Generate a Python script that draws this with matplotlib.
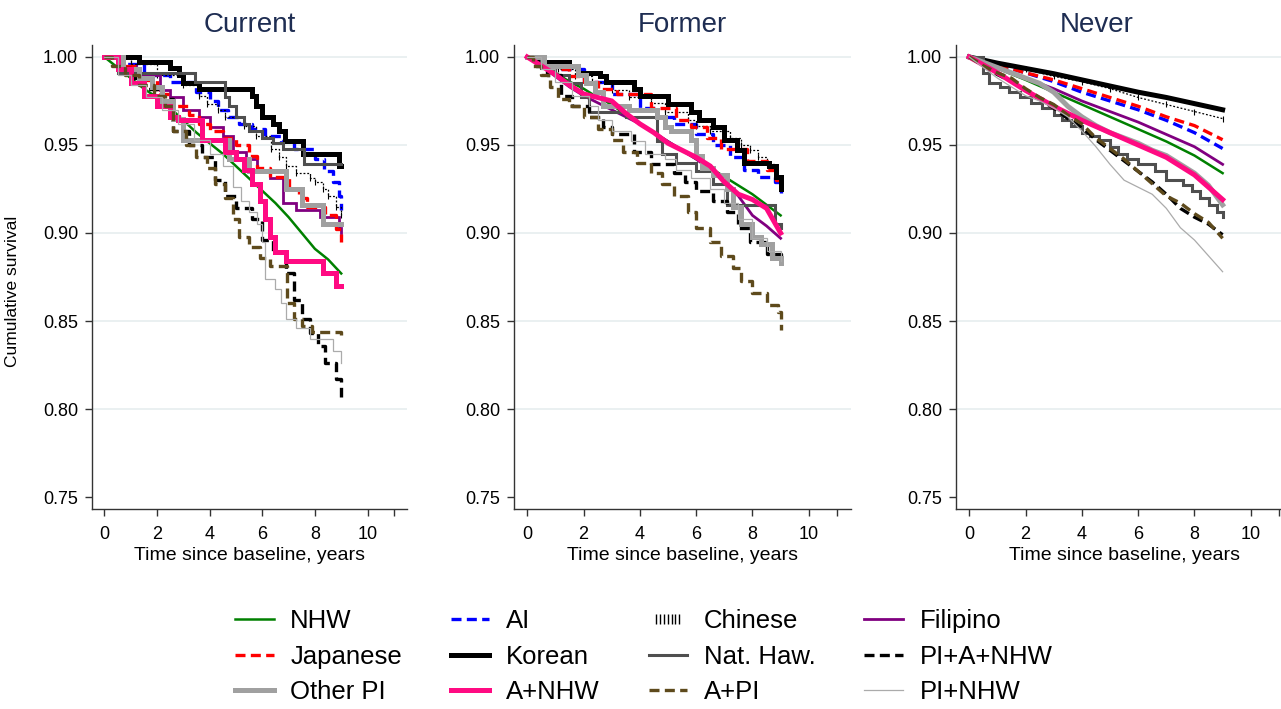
import numpy as np
import matplotlib
matplotlib.use('Agg')
import matplotlib.pyplot as plt
from matplotlib.lines import Line2D
from matplotlib.legend_handler import HandlerLine2D

plt.rcParams['font.family'] = ['Liberation Sans', 'DejaVu Sans']

W, H = 1281, 709

panel_titles = ['Current', 'Former', 'Never']
groups = ['NHW', 'AI', 'Chinese', 'Filipino', 'Japanese', 'Korean',
          'Nat. Haw.', 'PI+A+NHW', 'Other PI', 'A+NHW', 'A+PI', 'PI+NHW']
xticks = [0, 2, 4, 6, 8, 10, 11]
xticklabels = ['0', '2', '4', '6', '8', '10', '']
yticks = [0.75, 0.80, 0.85, 0.90, 0.95, 1.00]

# ---------------- Current
cur_nhw_t = [0, 0.5, 1, 1.5, 2, 2.5, 3, 3.5, 4, 4.5, 5, 5.5, 6, 6.5, 7, 7.5, 8, 8.5, 9]
cur_nhw_s = [1.0, 0.994, 0.988, 0.982, 0.977, 0.971, 0.964, 0.957, 0.951, 0.945, 0.938, 0.931, 0.924, 0.917, 0.909, 0.900, 0.891, 0.885, 0.877]
cur_ai_t = [0, 0.7, 1.5, 2.5, 3.5, 4.0, 4.3, 4.7, 5.1, 5.6, 6.1, 6.7, 7.2, 8.0, 8.35, 8.7, 8.9, 9.0]
cur_ai_s = [1.0, 0.996, 0.99, 0.986, 0.98, 0.975, 0.97, 0.966, 0.962, 0.959, 0.955, 0.952, 0.948, 0.942, 0.935, 0.929, 0.921, 0.913]
cur_chi_t = [0, 1.0, 2.0, 3.0, 3.6, 3.9, 4.3, 4.6, 5.3, 5.75, 6.35, 6.65, 6.9, 7.3, 7.8, 8.0, 8.3, 8.5, 8.8, 9.0]
cur_chi_s = [1.0, 0.996, 0.99, 0.984, 0.978, 0.973, 0.970, 0.966, 0.961, 0.955, 0.948, 0.943, 0.938, 0.934, 0.931, 0.929, 0.925, 0.921, 0.915, 0.910]
cur_fil_t = [0, 0.6, 1.2, 2.1, 2.5, 3.0, 3.6, 4.0, 4.5, 4.9, 5.4, 5.8, 6.3, 6.8, 7.3, 8.2, 8.9, 9.0]
cur_fil_s = [1.0, 0.995, 0.99, 0.981, 0.977, 0.970, 0.966, 0.960, 0.955, 0.946, 0.942, 0.935, 0.931, 0.917, 0.913, 0.909, 0.903, 0.900]
cur_jap_t = [0, 0.5, 1.3, 2.0, 2.5, 3.2, 3.6, 4.0, 4.5, 5.0, 5.5, 5.8, 6.3, 7.0, 7.4, 7.7, 8.4, 8.8, 9.0]
cur_jap_s = [1.0, 0.995, 0.987, 0.979, 0.972, 0.967, 0.962, 0.958, 0.954, 0.950, 0.944, 0.937, 0.932, 0.925, 0.920, 0.915, 0.910, 0.902, 0.895]
cur_kor_t = [0, 1.3, 2.5, 2.85, 2.97, 3.6, 5.6, 5.75, 6.0, 6.4, 6.65, 6.85, 7.55, 8.9, 9.0]
cur_kor_s = [1.0, 0.997, 0.994, 0.990, 0.985, 0.982, 0.978, 0.972, 0.966, 0.962, 0.958, 0.952, 0.945, 0.938, 0.938]
cur_nh_t = [0, 0.5, 3.45, 4.6, 4.75, 5.0, 5.3, 5.5, 6.0, 6.4, 6.8, 7.6, 9.0]
cur_nh_s = [1.0, 0.991, 0.986, 0.977, 0.972, 0.966, 0.962, 0.958, 0.954, 0.951, 0.948, 0.939, 0.939]
cur_pian_t = [0, 0.5, 1.0, 1.5, 2.0, 2.6, 3.2, 3.7, 4.2, 4.6, 5.0, 5.6, 6.0, 6.4, 6.9, 7.2, 7.5, 7.8, 8.1, 8.4, 8.8, 9.0]
cur_pian_s = [1.0, 0.994, 0.988, 0.982, 0.976, 0.958, 0.950, 0.943, 0.930, 0.921, 0.914, 0.908, 0.896, 0.889, 0.877, 0.862, 0.851, 0.843, 0.836, 0.826, 0.817, 0.807]
cur_opi_t = [0, 0.7, 1.3, 1.8, 2.2, 2.6, 3.0, 4.75, 5.5, 6.9, 7.5, 8.3, 9.0]
cur_opi_s = [1.0, 0.993, 0.988, 0.983, 0.975, 0.965, 0.953, 0.942, 0.935, 0.925, 0.916, 0.905, 0.905]
cur_anhw_t = [0, 0.5, 1.0, 1.5, 2.0, 2.5, 2.8, 3.7, 4.6, 5.0, 5.3, 5.6, 5.9, 6.1, 6.3, 6.5, 6.9, 8.3, 8.8, 9.0]
cur_anhw_s = [1.0, 0.993, 0.985, 0.978, 0.972, 0.966, 0.964, 0.953, 0.946, 0.942, 0.936, 0.928, 0.918, 0.908, 0.898, 0.889, 0.884, 0.877, 0.870, 0.870]
cur_api_t = [0, 0.3, 0.8, 1.3, 1.9, 2.3, 2.6, 3.1, 3.5, 3.9, 4.2, 4.6, 4.9, 5.1, 5.5, 5.9, 6.3, 6.95, 7.2, 7.5, 7.9, 9.0]
cur_api_s = [1.0, 0.995, 0.99, 0.984, 0.978, 0.972, 0.958, 0.950, 0.943, 0.937, 0.928, 0.920, 0.908, 0.898, 0.892, 0.886, 0.881, 0.860, 0.851, 0.847, 0.844, 0.842]
cur_pinhw_t = [0, 0.5, 1.0, 1.6, 2.2, 2.8, 3.4, 4.0, 4.5, 4.9, 5.2, 5.5, 5.8, 6.0, 6.1, 6.5, 6.7, 6.9, 7.3, 7.8, 8.7, 9.0]
cur_pinhw_s = [1.0, 0.99, 0.984, 0.977, 0.97, 0.962, 0.953, 0.945, 0.938, 0.926, 0.918, 0.912, 0.905, 0.895, 0.874, 0.868, 0.86, 0.851, 0.846, 0.84, 0.833, 0.826]

# ---------------- Former
grid05 = [0, 0.5, 1, 1.5, 2, 2.5, 3, 3.5, 4, 4.5, 5, 5.5, 6, 6.5, 7, 7.5, 8, 8.5, 9]
for_nhw_t = grid05
for_nhw_s = [1.0, 0.996, 0.991, 0.986, 0.982, 0.977, 0.973, 0.967, 0.962, 0.957, 0.952, 0.947, 0.942, 0.937, 0.932, 0.927, 0.922, 0.916, 0.910]
for_ai_t = [0, 0.5, 1.0, 2.0, 3.0, 4.0, 4.6, 5.2, 6.0, 6.6, 7.2, 7.7, 8.2, 8.8, 9.0]
for_ai_s = [1.0, 0.996, 0.993, 0.986, 0.979, 0.971, 0.966, 0.962, 0.956, 0.950, 0.943, 0.936, 0.932, 0.929, 0.923]
for_chi_t = [0, 0.5, 1.1, 1.7, 2.3, 3.0, 3.6, 4.4, 4.9, 5.7, 6.0, 6.5, 7.2, 7.6, 7.9, 8.2, 8.5, 8.8, 9.0]
for_chi_s = [1.0, 0.996, 0.993, 0.989, 0.986, 0.981, 0.977, 0.974, 0.969, 0.964, 0.961, 0.958, 0.954, 0.950, 0.947, 0.943, 0.939, 0.932, 0.927]
for_fil_t = grid05
for_fil_s = [1.0, 0.995, 0.989, 0.983, 0.978, 0.974, 0.970, 0.966, 0.962, 0.957, 0.952, 0.947, 0.942, 0.936, 0.929, 0.921, 0.910, 0.904, 0.897]
for_jap_t = [0, 0.5, 1.0, 1.5, 2.0, 2.5, 3.2, 4.4, 5.3, 5.8, 6.4, 6.9, 7.8, 8.5, 8.85, 9.0]
for_jap_s = [1.0, 0.996, 0.993, 0.989, 0.986, 0.982, 0.979, 0.971, 0.964, 0.960, 0.954, 0.948, 0.941, 0.936, 0.930, 0.926]
for_kor_t = [0, 0.3, 0.6, 1.5, 1.8, 2.6, 2.8, 3.8, 4.0, 5.0, 5.8, 6.1, 6.6, 7.0, 7.45, 7.7, 8.6, 8.85, 9.0]
for_kor_s = [1.0, 0.998, 0.997, 0.995, 0.991, 0.989, 0.986, 0.982, 0.978, 0.973, 0.969, 0.964, 0.960, 0.953, 0.947, 0.940, 0.938, 0.932, 0.925]
for_nh_t = [0, 0.5, 1.0, 1.5, 1.9, 2.2, 3.5, 4.6, 4.8, 5.3, 6.0, 6.6, 7.1, 8.8, 9.0]
for_nh_s = [1.0, 0.994, 0.99, 0.985, 0.977, 0.969, 0.966, 0.952, 0.945, 0.940, 0.935, 0.928, 0.916, 0.905, 0.903]
for_pian_t = [0, 0.3, 0.7, 1.2, 1.6, 2.2, 2.7, 3.0, 3.8, 4.4, 5.2, 5.6, 6.0, 6.6, 7.1, 7.5, 7.9, 8.5, 9.0]
for_pian_s = [1.0, 0.995, 0.99, 0.978, 0.972, 0.966, 0.960, 0.956, 0.946, 0.939, 0.934, 0.929, 0.924, 0.918, 0.912, 0.903, 0.895, 0.888, 0.885]
for_opi_t = [0, 0.6, 1.8, 2.1, 2.4, 2.7, 3.6, 4.6, 4.9, 5.1, 5.8, 6.0, 6.2, 6.6, 7.1, 7.3, 7.6, 8.0, 8.3, 8.7, 9.0]
for_opi_s = [1.0, 0.995, 0.990, 0.985, 0.980, 0.972, 0.970, 0.966, 0.960, 0.958, 0.953, 0.944, 0.937, 0.933, 0.925, 0.915, 0.905, 0.898, 0.894, 0.886, 0.883]
for_anhw_t = grid05
for_anhw_s = [1.0, 0.995, 0.99, 0.984, 0.979, 0.977, 0.975, 0.968, 0.962, 0.957, 0.951, 0.947, 0.943, 0.938, 0.929, 0.922, 0.919, 0.914, 0.900]
for_api_t = [0, 0.2, 0.5, 0.8, 1.1, 1.5, 2.0, 2.5, 3.0, 3.4, 3.9, 4.4, 4.8, 5.2, 5.7, 6.0, 6.5, 6.9, 7.3, 7.6, 8.0, 8.5, 8.9, 9.0]
for_api_s = [1.0, 0.995, 0.99, 0.983, 0.976, 0.972, 0.966, 0.959, 0.953, 0.946, 0.940, 0.934, 0.928, 0.921, 0.912, 0.903, 0.895, 0.887, 0.880, 0.873, 0.866, 0.859, 0.855, 0.845]
for_pinhw_t = [0, 0.5, 1.0, 1.6, 2.2, 2.5, 3.0, 3.7, 4.2, 4.9, 5.3, 5.8, 6.5, 7.0, 7.5, 8.0, 8.5, 9.0]
for_pinhw_s = [1.0, 0.993, 0.986, 0.978, 0.972, 0.964, 0.958, 0.952, 0.945, 0.942, 0.936, 0.931, 0.925, 0.917, 0.908, 0.897, 0.890, 0.884]

# ---------------- Never
grid1 = [0, 1, 2, 3, 4, 5, 6, 7, 8, 9]
nev_nhw_t = grid1
nev_nhw_s = [1.0, 0.9935, 0.987, 0.980, 0.973, 0.966, 0.959, 0.952, 0.944, 0.934]
nev_ai_t = grid1
nev_ai_s = [1.0, 0.9955, 0.991, 0.986, 0.980, 0.975, 0.970, 0.964, 0.957, 0.948]
nev_chi_t = grid1
nev_chi_s = [1.0, 0.996, 0.993, 0.989, 0.986, 0.982, 0.977, 0.973, 0.969, 0.965]
nev_fil_t = grid1
nev_fil_s = [1.0, 0.994, 0.988, 0.982, 0.975, 0.969, 0.963, 0.956, 0.949, 0.939]
nev_jap_t = grid1
nev_jap_s = [1.0, 0.9955, 0.991, 0.987, 0.982, 0.977, 0.972, 0.966, 0.961, 0.953]
nev_kor_t = grid1
nev_kor_s = [1.0, 0.9965, 0.9935, 0.9905, 0.987, 0.9835, 0.980, 0.977, 0.9735, 0.970]
nev_nh_t = [0, 0.5, 0.7, 1.1, 1.4, 1.8, 2.2, 2.6, 3.0, 3.3, 3.6, 4.0, 4.3, 4.6, 5.0, 5.3, 5.6, 6.0, 6.6, 7.0, 7.6, 7.9, 8.2, 8.5, 8.8, 9.0]
nev_nh_s = [1.0, 0.991, 0.985, 0.983, 0.980, 0.977, 0.974, 0.971, 0.967, 0.964, 0.961, 0.957, 0.955, 0.953, 0.949, 0.945, 0.942, 0.939, 0.935, 0.930, 0.927, 0.924, 0.920, 0.916, 0.912, 0.909]
nev_pian_t = grid05
nev_pian_s = [1.0, 0.995, 0.990, 0.986, 0.981, 0.976, 0.971, 0.965, 0.960, 0.953, 0.947, 0.941, 0.935, 0.929, 0.922, 0.914, 0.909, 0.905, 0.899]
nev_opi_t = grid05
nev_opi_s = [1.0, 0.997, 0.994, 0.991, 0.988, 0.985, 0.980, 0.972, 0.966, 0.961, 0.957, 0.954, 0.951, 0.947, 0.944, 0.939, 0.934, 0.927, 0.916]
nev_anhw_t = grid1
nev_anhw_s = [1.0, 0.991, 0.981, 0.972, 0.964, 0.957, 0.950, 0.943, 0.933, 0.919]
nev_api_t = grid05
nev_api_s = [1.0, 0.995, 0.991, 0.988, 0.982, 0.977, 0.973, 0.967, 0.962, 0.954, 0.948, 0.942, 0.935, 0.928, 0.921, 0.917, 0.911, 0.906, 0.897]
nev_pinhw_t = grid05
nev_pinhw_s = [1.0, 0.994, 0.988, 0.983, 0.978, 0.975, 0.971, 0.966, 0.958, 0.949, 0.939, 0.930, 0.926, 0.922, 0.914, 0.903, 0.896, 0.887, 0.878]

panels = [
    [(cur_nhw_t, cur_nhw_s), (cur_ai_t, cur_ai_s), (cur_chi_t, cur_chi_s), (cur_fil_t, cur_fil_s),
     (cur_jap_t, cur_jap_s), (cur_kor_t, cur_kor_s), (cur_nh_t, cur_nh_s), (cur_pian_t, cur_pian_s),
     (cur_opi_t, cur_opi_s), (cur_anhw_t, cur_anhw_s), (cur_api_t, cur_api_s), (cur_pinhw_t, cur_pinhw_s)],
    [(for_nhw_t, for_nhw_s), (for_ai_t, for_ai_s), (for_chi_t, for_chi_s), (for_fil_t, for_fil_s),
     (for_jap_t, for_jap_s), (for_kor_t, for_kor_s), (for_nh_t, for_nh_s), (for_pian_t, for_pian_s),
     (for_opi_t, for_opi_s), (for_anhw_t, for_anhw_s), (for_api_t, for_api_s), (for_pinhw_t, for_pinhw_s)],
    [(nev_nhw_t, nev_nhw_s), (nev_ai_t, nev_ai_s), (nev_chi_t, nev_chi_s), (nev_fil_t, nev_fil_s),
     (nev_jap_t, nev_jap_s), (nev_kor_t, nev_kor_s), (nev_nh_t, nev_nh_s), (nev_pian_t, nev_pian_s),
     (nev_opi_t, nev_opi_s), (nev_anhw_t, nev_anhw_s), (nev_api_t, nev_api_s), (nev_pinhw_t, nev_pinhw_s)],
]

# line styles, same order as groups
dash = (0, (3, 1.6))
styles = {
    'NHW':       dict(color='#008000', lw=1.8, ls='-'),
    'AI':        dict(color='#0000ff', lw=2.4, ls=dash),
    'Chinese':   dict(color='black', lw=0.9, ls=(0, (1.5, 1.5))),
    'Filipino':  dict(color='#800080', lw=2.0, ls='-'),
    'Japanese':  dict(color='#ff0000', lw=2.4, ls=dash),
    'Korean':    dict(color='black', lw=3.6, ls='-'),
    'Nat. Haw.': dict(color='#4f4f4f', lw=2.2, ls='-'),
    'PI+A+NHW':  dict(color='black', lw=2.4, ls=dash),
    'Other PI':  dict(color='#a0a0a0', lw=3.6, ls='-'),
    'A+NHW':     dict(color='#ff0a82', lw=3.6, ls='-'),
    'A+PI':      dict(color='#5e4a1c', lw=2.4, ls=dash),
    'PI+NHW':    dict(color='#ababab', lw=0.9, ls='-'),
}

fig = plt.figure(figsize=(W / 100, H / 100), dpi=100)
rects = [(92, 315), (514, 337), (956, 337)]
title_x = [250, 682, 1097]
ax_top, ax_bot = 45, 509

for i, series in enumerate(panels):
    left, width = rects[i]
    ax = fig.add_axes([left / W, 1 - ax_bot / H, width / W, (ax_bot - ax_top) / H])
    for g, (t, s) in zip(groups, series):
        st = styles[g]
        regular = np.allclose(np.diff(t), t[1] - t[0])
        ds = 'default' if regular else 'steps-post'
        ax.plot(t, s, color=st['color'], lw=st['lw'], linestyle=st['ls'],
                drawstyle=ds, solid_joinstyle='miter', dash_capstyle='butt')
        if g == 'Chinese':
            ax.plot(t[1:], s[1:], ls='None', marker='|', ms=5, mew=0.8, color='black')
    ax.set_xlim(-0.47, 11.5)
    ax.set_ylim(0.7432, 1.0068)
    ax.set_xticks(xticks)
    ax.set_xticklabels(xticklabels)
    ax.set_yticks(yticks)
    ax.set_yticklabels(['%.2f' % v for v in yticks])
    for v in yticks[1:]:
        ax.axhline(v, color='#e6edef', lw=1.2, zorder=0)
    for sp in ['top', 'right']:
        ax.spines[sp].set_visible(False)
    for sp in ['left', 'bottom']:
        ax.spines[sp].set_color('#333333')
        ax.spines[sp].set_linewidth(1.0)
    ax.tick_params(direction='out', length=5, width=1, color='#333333',
                   labelsize=13, pad=5)
    ax.tick_params(axis='x', pad=7)
    ax.set_xlabel('Time since baseline, years', fontsize=14, labelpad=3)
    if i == 0:
        ax.set_ylabel('Cumulative survival', fontsize=12.5)
        ax.yaxis.set_label_coords(-0.228, 0.47)
    fig.text(title_x[i] / W, 1 - 25 / H, panel_titles[i], fontsize=20,
             color='#1e2d52', ha='center', va='center')

# legend, filled column by column as matplotlib does
order = ['NHW', 'Japanese', 'Other PI', 'AI', 'Korean', 'A+NHW',
         'Chinese', 'Nat. Haw.', 'A+PI', 'Filipino', 'PI+A+NHW', 'PI+NHW']
handles = []
hmap = {}
for g in order:
    st = styles[g]
    if g == 'Chinese':
        h = Line2D([], [], ls='None', marker='|', ms=7, mew=1, color='black')
        hmap[h] = HandlerLine2D(numpoints=7)
    else:
        h = Line2D([], [], color=st['color'], lw=st['lw'], linestyle=st['ls'],
                   dash_capstyle='butt')
    handles.append(h)

fig.legend(handles, order, ncol=4, loc='upper left',
           bbox_to_anchor=(235 / W, 1 - 609 / H), frameon=False,
           fontsize=18.5, handlelength=1.5, handletextpad=0.65,
           columnspacing=1.9, labelspacing=0.45, borderpad=0,
           borderaxespad=0, handler_map=hmap)

fig.savefig('out.png', dpi=100)
